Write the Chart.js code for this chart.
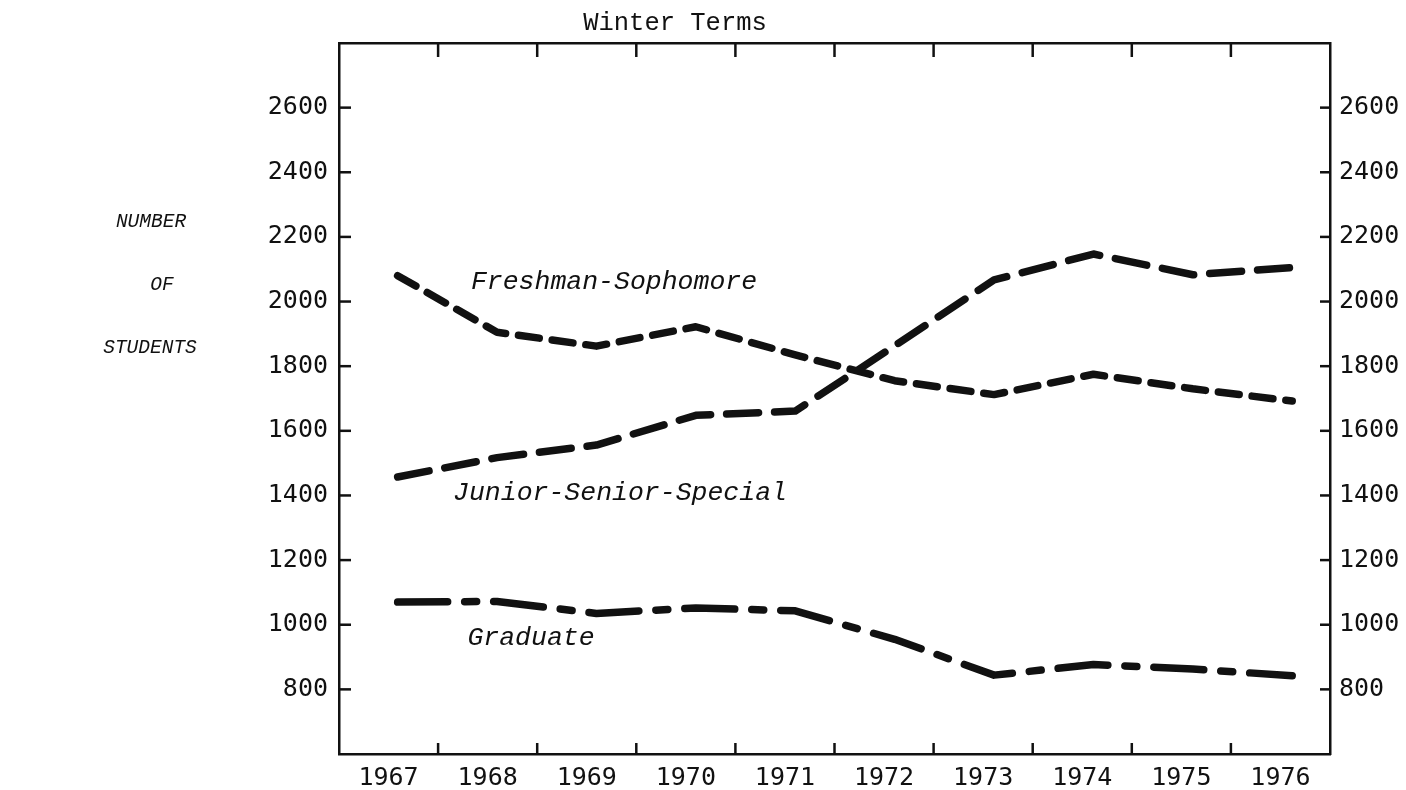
<!DOCTYPE html>
<html>
<head>
<meta charset="utf-8">
<script src="https://cdn.jsdelivr.net/npm/chart.js@4.4.1/dist/chart.umd.min.js"></script>
<style>
  body { margin: 0; background: #fff; }
  #wrap { width: 1406px; height: 790px; }
</style>
</head>
<body>
<div id="wrap"><canvas id="chart" width="1406" height="790"></canvas></div>
<script>
// values
const years = ['1967', '1968', '1969', '1970', '1971', '1972', '1973', '1974', '1975', '1976']
const freshmanSophomore = [2080, 1905, 1862, 1922, 1835, 1755, 1712, 1775, 1730, 1692]
const juniorSeniorSpecial = [1457, 1517, 1556, 1648, 1661, 1863, 2067, 2147, 2083, 2105]
const graduate = [1070, 1072, 1035, 1052, 1043, 955, 844, 877, 863, 842]
const yTickValues = [800, 1000, 1200, 1400, 1600, 1800, 2000, 2200, 2400, 2600]

const ink = '#111'
const tickFont = { family: 'DejaVu Sans Mono', size: 25 }
const axisBorder = { display: true, color: ink, width: 2.5 }

const points = arr => years.map((y, i) => ({ x: Number(y), y: arr[i] }))

function lineSet(label, arr, dash) {
    return {
        label: label,
        data: points(arr),
        xAxisID: 'xd',
        yAxisID: 'y',
        borderColor: ink,
        borderWidth: 7.5,
        borderDash: dash,
        borderCapStyle: 'round',
        borderJoinStyle: 'round',
        pointRadius: 0,
        tension: 0,
        fill: false
    }
}

const fixTicks = scale => {
    scale.ticks = yTickValues.map(v => ({ value: v }))
}
const plainNumber = v => String(v)

// typed labels, title and the inward tick marks
const paperText = {
    id: 'paperText',
    afterDraw(chart) {
        const { ctx, chartArea: a, scales } = chart
        ctx.save()
        ctx.fillStyle = ink
        ctx.textAlign = 'center'
        ctx.textBaseline = 'middle'

        ctx.font = '25.5px "Liberation Mono"'
        ctx.fillText('Winter Terms', 675, 23)

        ctx.font = 'italic 26.5px "Liberation Mono"'
        ctx.fillText('Freshman-Sophomore', 614, 282)
        ctx.fillText('Junior-Senior-Special', 620, 493)
        ctx.fillText('Graduate', 531, 638)

        ctx.font = 'italic 19.5px "Liberation Mono"'
        ctx.fillText('NUMBER', 151, 222)
        ctx.fillText('OF', 162, 285)
        ctx.fillText('STUDENTS', 150, 348)

        ctx.strokeStyle = ink
        ctx.lineWidth = 2.5
        const seg = (x1, y1, x2, y2) => {
            ctx.beginPath()
            ctx.moveTo(x1, y1)
            ctx.lineTo(x2, y2)
            ctx.stroke()
        }
        const xb = scales.x
        const xt = scales.x2
        for (let i = 0; i < years.length - 1; i = i + 1) {
            const pb = (xb.getPixelForTick(i) + xb.getPixelForTick(i + 1)) / 2
            seg(pb, a.bottom, pb, a.bottom - 11)
            const pt = (xt.getPixelForTick(i) + xt.getPixelForTick(i + 1)) / 2
            seg(pt, a.top, pt, a.top + 14)
        }
        scales.y.ticks.forEach(t => {
            const py = scales.y.getPixelForValue(t.value)
            seg(a.left, py, a.left + 12, py)
        })
        scales.y2.ticks.forEach(t => {
            const py = scales.y2.getPixelForValue(t.value)
            seg(a.right, py, a.right - 10, py)
        })
        ctx.restore()
    }
}

const ctx = document.getElementById('chart').getContext('2d')
const chart = new Chart(ctx, {
    type: 'line',
    data: {
        labels: years,
        datasets: [
            lineSet('Freshman-Sophomore', freshmanSophomore, [21, 13]),
            lineSet('Junior-Senior-Special', juniorSeniorSpecial, [32, 16]),
            lineSet('Graduate', graduate, [50, 17, 12, 17])
        ]
    },
    options: {
        responsive: false,
        animation: false,
        layout: { padding: 0 },
        plugins: {
            legend: { display: false },
            tooltip: { enabled: false }
        },
        scales: {
            x: {
                type: 'category',
                position: 'bottom',
                offset: true,
                grid: { display: false },
                border: axisBorder,
                ticks: { color: ink, font: tickFont, padding: 1, maxRotation: 0, autoSkip: false },
                afterFit: s => { s.height = 36 }
            },
            x2: {
                type: 'category',
                position: 'top',
                offset: true,
                grid: { display: false },
                border: axisBorder,
                ticks: { display: false },
                afterFit: s => { s.height = 43 }
            },
            xd: {
                type: 'linear',
                display: false,
                min: 1966.41,
                max: 1976.38
            },
            y: {
                type: 'linear',
                position: 'left',
                min: 600,
                max: 2800,
                afterBuildTicks: fixTicks,
                grid: { display: false },
                border: axisBorder,
                ticks: { color: ink, font: tickFont, padding: 3, callback: plainNumber },
                afterFit: s => { s.width = 339 }
            },
            y2: {
                type: 'linear',
                position: 'right',
                min: 600,
                max: 2800,
                afterBuildTicks: fixTicks,
                grid: { display: false },
                border: axisBorder,
                ticks: { color: ink, font: tickFont, padding: 1, callback: plainNumber },
                afterFit: s => { s.width = 76 }
            }
        }
    },
    plugins: [paperText]
})
</script>
</body>
</html>
